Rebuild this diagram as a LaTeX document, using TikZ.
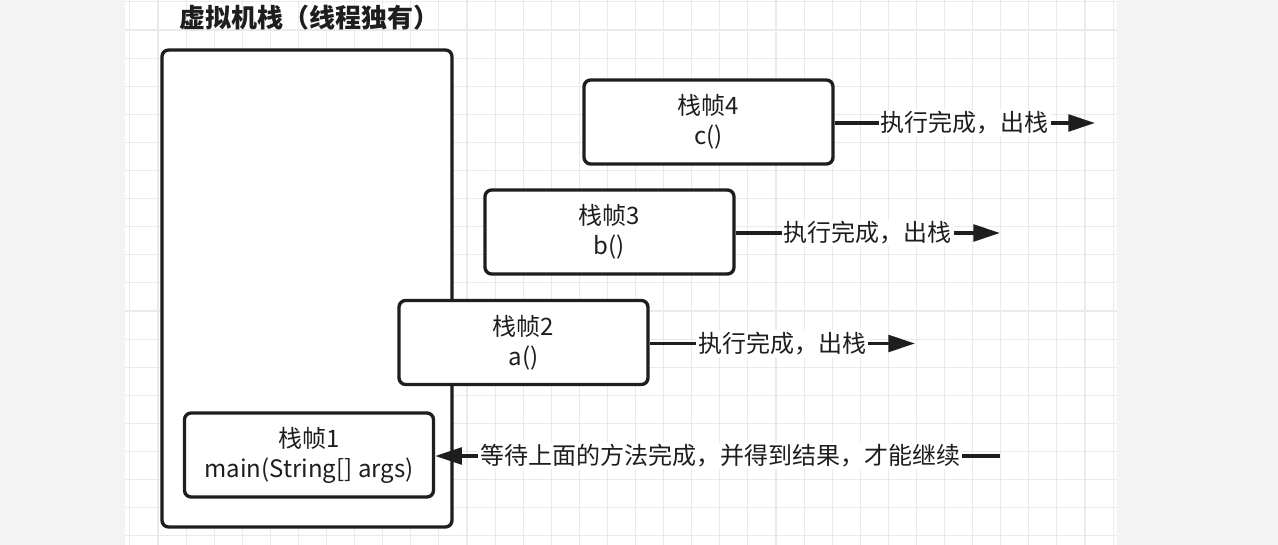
\documentclass[tikz,border=0pt]{standalone}
\usepackage{fontspec}
\newfontfamily\cjk{Noto Sans CJK SC}
\usetikzlibrary{arrows.meta}
\definecolor{ink}{HTML}{1E1E1E}
\definecolor{gridc}{HTML}{EAEAEA}
\definecolor{side}{HTML}{F3F3F3}
\tikzset{
  box/.style={draw=ink, line width=2.5pt, rounded corners=5pt, fill=white},
  stackbox/.style={box, minimum width=217.5pt, minimum height=357.75pt},
  framebox/.style={box, minimum width=186.75pt, minimum height=63pt, align=center,
    text=ink, font=\cjk\fontsize{18}{22.5}\selectfont},
  lab/.style={fill=white, inner sep=1.5pt, text=ink, font=\cjk\fontsize{18}{20}\selectfont},
  arr/.style={draw=ink, line width=2.5pt, -{Triangle[length=20pt,width=12.5pt]}},
  title/.style={text=ink, font=\cjk\bfseries\fontsize{19.5}{22}\selectfont},
  gl/.style={draw=gridc, line width=0.8pt}
}
\begin{document}
\begin{tikzpicture}[x=0.75pt,y=-0.75pt]
\useasboundingbox (0,0) rectangle (1278,545);
\fill[side] (0,0) rectangle (1278,545);
\fill[white] (125,0) rectangle (1117,545);
\foreach \k in {0,...,35} \draw[gl] ({129.9+28.09*\k},0) -- ({129.9+28.09*\k},545);
\foreach \k in {0,...,19} \draw[gl] (125,{1.9+28.1*\k}) -- (1117,{1.9+28.1*\k});

\node[title] (t) at (309,18) {虚拟机栈（线程独有）};
\node[stackbox] (big) at (307,288.5) {};
\node[framebox] (f1) at (309,455) {栈帧1\\main(String[] args)};
\node[framebox] (f2) at (523.5,342.5) {栈帧2\\a()};
\node[framebox] (f3) at (609.5,232) {栈帧3\\b()};
\node[framebox] (f4) at (708.5,122) {栈帧4\\c()};

\coordinate (e4) at (1095,123);
\coordinate (e3) at (1000,233);
\coordinate (e2) at (915,343.5);
\coordinate (w1) at (1000,456);

\draw[arr] (f4.east |- e4) -- (e4) node[midway, lab] {执行完成，出栈};
\draw[arr] (f3.east |- e3) -- (e3) node[midway, lab] {执行完成，出栈};
\draw[arr] (f2.east |- e2) -- (e2) node[midway, lab] {执行完成，出栈};
\draw[arr] (w1) -- (f1.east |- w1) node[pos=0.495, lab] {等待上面的方法完成，并得到结果，才能继续};
\end{tikzpicture}
\end{document}
